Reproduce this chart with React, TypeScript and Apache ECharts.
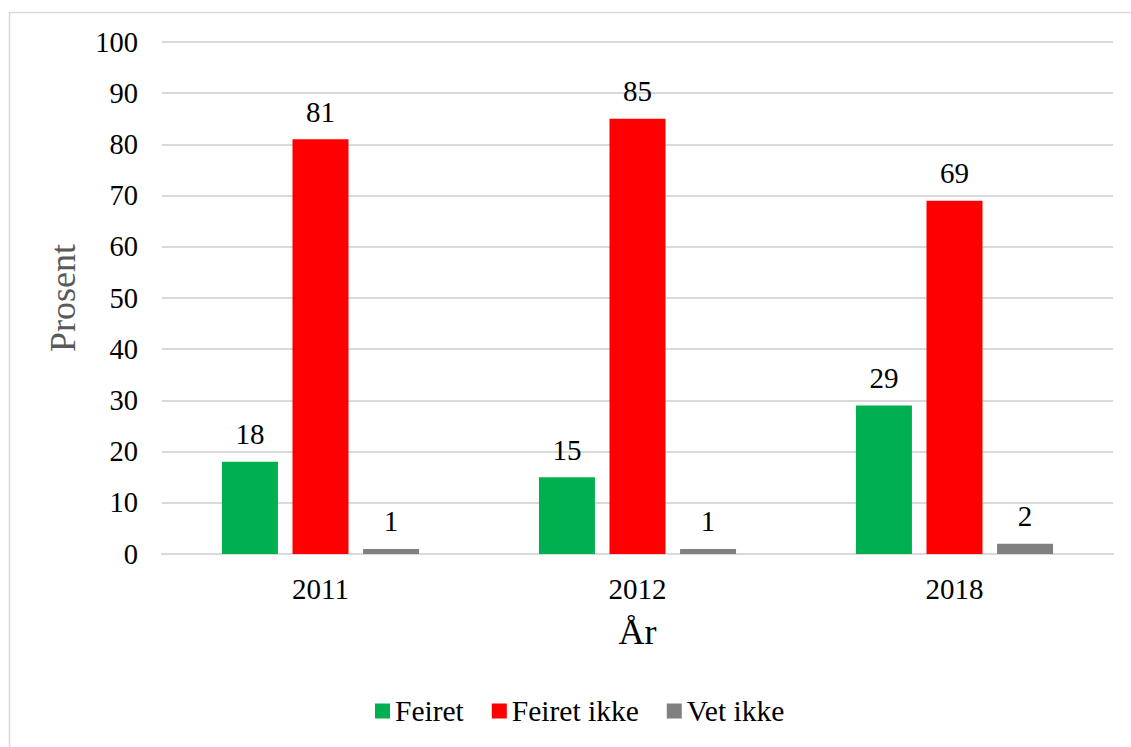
import React, { useEffect, useRef } from "react";
import * as echarts from "echarts";

const years = ["2011", "2012", "2018"];
const feiret = [18, 15, 29];
const feiretIkke = [81, 85, 69];
const vetIkke = [1, 1, 2];

const FONT = "Liberation Serif";

export default function App() {
  const ref = useRef<HTMLDivElement>(null);

  useEffect(() => {
    if (!ref.current) return;
    const chart = echarts.init(ref.current, undefined, { renderer: "svg" });
    const label = {
      show: true,
      position: "top" as const,
      distance: 13,
      color: "#000",
      fontFamily: FONT,
      fontSize: 29,
    };
    chart.setOption({
      animation: false,
      backgroundColor: "#fff",
      textStyle: { fontFamily: FONT },
      graphic: [
        {
          type: "rect",
          shape: { x: 9.5, y: 12.5, width: 1200, height: 800 },
          style: { fill: "none", stroke: "#d9d9d9", lineWidth: 1.5 },
          silent: true,
        },
      ],
      grid: { left: 162, right: 18, top: 42, bottom: 193 },
      legend: {
        bottom: 16,
        left: 370,
        itemWidth: 15,
        itemHeight: 15,
        itemGap: 28,
        icon: "rect",
        textStyle: { fontFamily: FONT, fontSize: 29.5, color: "#000", padding: [2, 0, 0, 0] },
        data: ["Feiret", "Feiret ikke", "Vet ikke"],
      },
      xAxis: {
        type: "category",
        data: years,
        name: "År",
        nameLocation: "middle",
        nameGap: 60,
        nameTextStyle: { fontFamily: FONT, fontSize: 36, color: "#000" },
        axisLine: { show: true, lineStyle: { color: "#d9d9d9", width: 2 } },
        axisTick: { show: false },
        axisLabel: { fontFamily: FONT, fontSize: 29, color: "#000", margin: 20 },
      },
      yAxis: {
        type: "value",
        min: 0,
        max: 100,
        interval: 10,
        name: "Prosent",
        nameLocation: "middle",
        nameGap: 81,
        nameTextStyle: { fontFamily: FONT, fontSize: 36, color: "#595959" },
        axisLine: { show: false },
        axisTick: { show: false },
        axisLabel: { fontFamily: FONT, fontSize: 28.5, color: "#000", margin: 24 },
        splitLine: { lineStyle: { color: "#d9d9d9", width: 2 } },
      },
      series: [
        {
          name: "Feiret",
          type: "bar",
          data: feiret,
          itemStyle: { color: "#00b050" },
          barWidth: 56,
          barGap: "26%",
          label,
        },
        {
          name: "Feiret ikke",
          type: "bar",
          data: feiretIkke,
          itemStyle: { color: "#ff0000" },
          barWidth: 56,
          barGap: "26%",
          label,
        },
        {
          name: "Vet ikke",
          type: "bar",
          data: vetIkke,
          itemStyle: { color: "#808080" },
          barWidth: 56,
          barGap: "26%",
          label,
        },
      ],
    });
    return () => chart.dispose();
  }, []);

  return (
    <div
      ref={ref}
      style={{ position: "absolute", left: 0, top: 0, width: 1131, height: 747 }}
    />
  );
}
